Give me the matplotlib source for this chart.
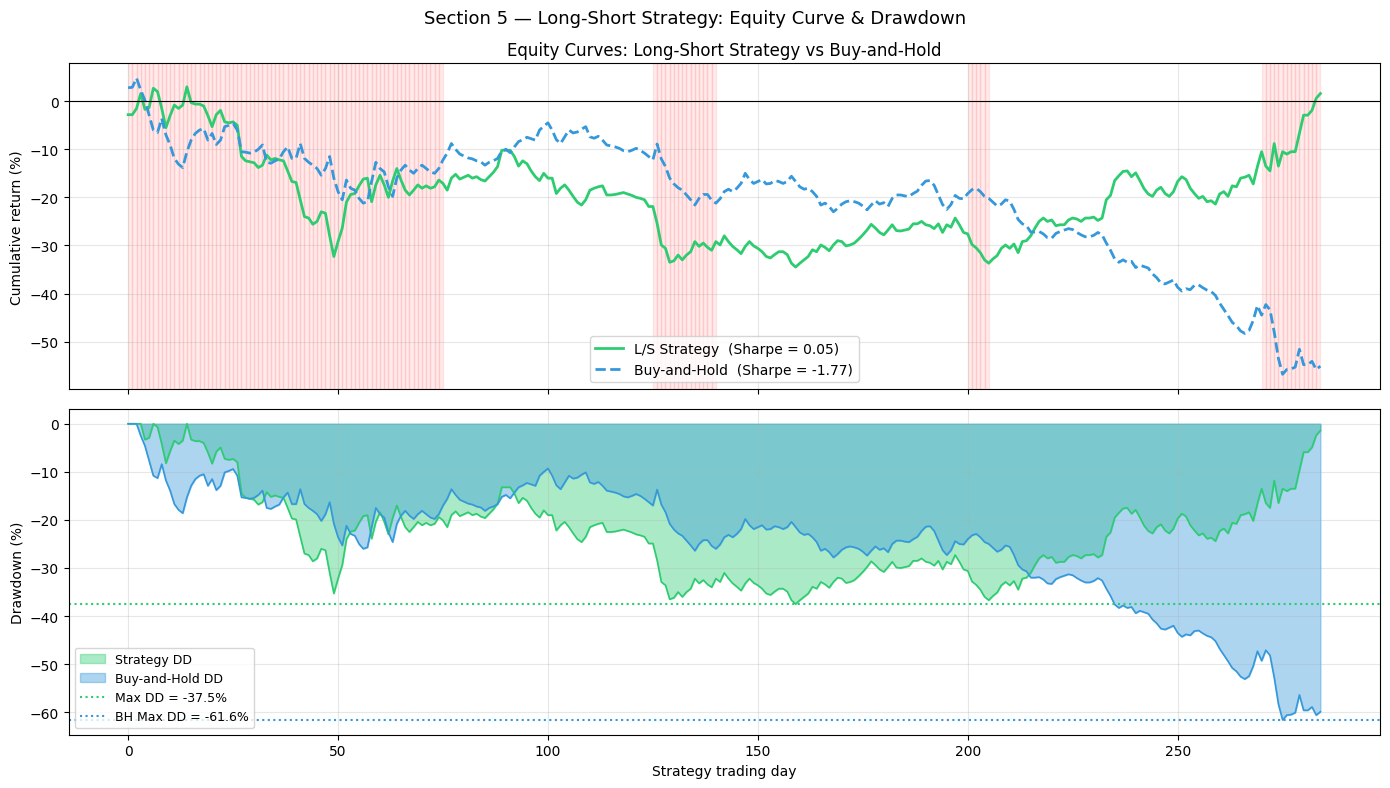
import numpy as np
import matplotlib
matplotlib.use("Agg")
import matplotlib.pyplot as plt

# cumulative returns (%), one value per trading day
strategy = [
    -2.8, -2.8, -1.5, 1.6, -1.7, -1.3, 2.7, 2.0, -1.5, -5.5,
    -3.0, -0.8, -1.5, -0.8, 3.0, -0.3, -0.6, -0.6, -1.0, -3.0,
    -5.3, -2.8, -1.9, -4.3, -4.5, -4.3, -5.0, -11.5, -12.4, -12.6,
    -12.8, -13.8, -13.3, -11.2, -12.2, -11.9, -12.2, -12.4, -14.5, -16.7,
    -16.9, -20.5, -24.0, -24.3, -25.6, -25.0, -23.0, -23.3, -28.0, -32.3,
    -29.2, -26.4, -21.0, -19.4, -19.2, -17.6, -16.2, -16.0, -20.9, -17.4,
    -15.4, -17.4, -20.0, -16.6, -14.0, -16.4, -18.5, -19.5, -18.5, -17.4,
    -18.1, -17.6, -18.1, -17.8, -16.4, -17.1, -18.5, -16.0, -15.2, -16.2,
    -15.8, -15.4, -16.0, -15.7, -16.3, -16.6, -15.7, -14.8, -13.6, -10.2,
    -10.2, -10.2, -11.5, -13.5, -12.4, -13.0, -14.5, -15.7, -16.5, -15.0,
    -16.0, -16.0, -19.2, -18.1, -17.4, -18.5, -19.8, -21.0, -21.6, -20.5,
    -18.5, -18.1, -17.8, -17.6, -19.5, -19.5, -19.4, -19.2, -19.0, -19.3,
    -19.6, -20.0, -20.2, -20.5, -21.9, -21.9, -25.4, -29.9, -30.6, -33.5,
    -33.2, -32.0, -33.0, -32.0, -31.3, -29.2, -30.2, -29.5, -30.4, -31.0,
    -29.2, -29.9, -28.0, -29.2, -30.2, -30.9, -31.7, -30.2, -29.2, -30.1,
    -30.6, -31.3, -32.3, -32.6, -31.9, -31.3, -31.3, -31.9, -33.7, -34.5,
    -33.7, -33.0, -32.3, -30.9, -31.3, -29.9, -30.4, -31.1, -29.9, -29.0,
    -29.2, -30.1, -29.9, -29.5, -28.7, -27.8, -26.8, -25.6, -26.4, -27.3,
    -27.8, -26.8, -25.7, -26.9, -27.0, -26.8, -26.6, -25.5, -25.5, -25.0,
    -25.7, -25.9, -26.5, -25.5, -27.3, -25.7, -26.2, -24.3, -25.7, -27.3,
    -27.6, -29.8, -30.5, -31.5, -33.0, -33.7, -32.8, -32.1, -30.6, -29.9,
    -30.6, -29.7, -31.5, -29.2, -29.0, -28.0, -26.4, -25.0, -24.3, -25.0,
    -24.7, -25.9, -25.7, -25.7, -24.7, -24.3, -24.5, -25.0, -24.3, -24.3,
    -24.1, -24.8, -24.3, -20.5, -19.6, -16.5, -15.5, -14.6, -14.5, -15.7,
    -14.9, -16.5, -18.2, -19.3, -19.8, -18.5, -17.9, -19.2, -19.8, -18.8,
    -16.7, -15.7, -16.3, -18.1, -19.2, -20.2, -19.8, -20.9, -20.7, -21.4,
    -19.3, -18.8, -19.8, -17.6, -17.8, -16.0, -15.8, -15.4, -17.2, -13.6,
    -10.5, -13.5, -14.5, -8.8, -13.5, -10.5, -11.0, -10.5, -10.5, -6.7,
    -2.9, -2.9, -1.9, 0.6, 1.6,
]

buyhold = [
    2.8, 2.9, 4.8, 2.3, 0.2, -2.9, -6.0, -6.5, -3.6, -7.0,
    -9.1, -11.9, -13.1, -13.8, -10.5, -8.1, -6.7, -6.0, -5.7, -8.1,
    -6.7, -9.0, -8.1, -5.3, -5.0, -4.6, -6.0, -10.5, -10.6, -10.8,
    -10.6, -10.0, -9.1, -12.7, -12.9, -12.4, -12.0, -10.5, -9.5, -11.9,
    -11.9, -8.8, -11.9, -12.7, -13.3, -14.0, -15.4, -14.0, -11.5, -16.0,
    -18.8, -20.5, -16.4, -18.1, -18.5, -20.2, -21.2, -20.9, -16.7, -12.7,
    -14.0, -14.7, -17.8, -19.8, -16.0, -14.3, -13.3, -14.3, -15.0, -14.0,
    -13.3, -14.0, -14.7, -15.0, -14.0, -12.2, -10.8, -8.8, -10.0, -11.0,
    -11.4, -11.8, -12.0, -12.4, -12.6, -13.3, -12.7, -12.4, -11.9, -10.4,
    -10.0, -10.7, -9.5, -8.4, -8.0, -7.5, -7.8, -8.1, -6.0, -5.2,
    -4.5, -6.0, -8.0, -8.8, -7.4, -6.0, -6.6, -6.4, -5.8, -5.3,
    -7.4, -7.7, -7.3, -8.1, -9.1, -9.3, -9.5, -9.8, -10.3, -10.5,
    -10.2, -9.8, -10.2, -10.8, -11.5, -12.2, -8.9, -12.0, -13.6, -16.0,
    -17.2, -18.0, -18.5, -19.5, -20.5, -21.6, -20.2, -19.4, -19.4, -20.6,
    -21.2, -20.3, -18.8, -18.3, -18.8, -18.1, -17.1, -15.0, -16.3, -17.1,
    -16.7, -16.3, -17.2, -17.1, -16.5, -16.7, -17.1, -16.7, -15.6, -16.7,
    -17.8, -18.3, -18.1, -18.8, -19.8, -21.6, -21.2, -21.9, -23.0, -22.3,
    -21.4, -20.9, -20.7, -20.9, -21.2, -21.8, -22.6, -21.6, -20.7, -21.4,
    -21.1, -21.9, -20.2, -19.5, -19.5, -19.7, -19.8, -19.2, -18.7, -17.5,
    -16.6, -16.5, -17.5, -19.5, -21.5, -22.5, -21.5, -19.6, -20.2, -20.3,
    -19.2, -18.4, -18.1, -18.8, -19.8, -20.2, -21.0, -21.8, -21.4, -20.5,
    -20.8, -22.5, -24.6, -25.5, -25.9, -27.2, -27.2, -27.1, -27.6, -28.4,
    -28.5, -27.5, -27.1, -26.8, -26.5, -26.7, -27.3, -27.8, -28.2, -28.2,
    -27.9, -27.3, -27.8, -29.5, -31.0, -32.8, -33.5, -33.0, -33.5, -33.3,
    -34.6, -34.1, -34.4, -34.7, -35.9, -36.7, -37.8, -38.0, -37.6, -37.2,
    -38.7, -39.5, -39.0, -39.2, -38.3, -38.2, -38.8, -39.3, -39.6, -40.4,
    -42.0, -43.3, -44.6, -46.0, -46.7, -47.8, -48.3, -47.7, -45.6, -42.5,
    -44.5, -42.3, -43.4, -48.0, -53.5, -56.8, -55.8, -55.7, -55.3, -51.6,
    -54.8, -54.8, -54.1, -55.8, -55.1,
]

# periods shaded red on the equity panel (start day, end day)
short_periods = [(0, 75), (125, 140), (200, 205), (270, 284)]

sharpe_strategy = 0.05
sharpe_bh = -1.77

strategy = np.array(strategy)
buyhold = np.array(buyhold)
days = np.arange(len(strategy))

# drawdown in percentage points from running peak
dd_strategy = strategy - np.maximum.accumulate(strategy)
dd_bh = buyhold - np.maximum.accumulate(buyhold)
max_dd = dd_strategy.min()
max_dd_bh = dd_bh.min()

green = '#2ecc71'
blue = '#3498db'

fig, (ax1, ax2) = plt.subplots(2, 1, figsize=(14, 8), sharex=True)

# --- equity curves
for start, end in short_periods:
    for d in range(start, end):
        ax1.axvspan(d, d + 1, color='red', alpha=0.08)
ax1.plot(days, strategy, color=green, lw=2,
         label=f'L/S Strategy  (Sharpe = {sharpe_strategy:.2f})')
ax1.plot(days, buyhold, color=blue, lw=2, ls='--',
         label=f'Buy-and-Hold  (Sharpe = {sharpe_bh:.2f})')
ax1.axhline(0, color='black', lw=0.8)
ax1.set_title('Equity Curves: Long-Short Strategy vs Buy-and-Hold')
ax1.set_ylabel('Cumulative return (%)')
ax1.legend(loc='lower center')
ax1.grid(alpha=0.3)

# --- drawdowns
ax2.fill_between(days, dd_strategy, 0, color=green, alpha=0.4, label='Strategy DD')
ax2.plot(days, dd_strategy, color=green, lw=1.2)
ax2.fill_between(days, dd_bh, 0, color=blue, alpha=0.4, label='Buy-and-Hold DD')
ax2.plot(days, dd_bh, color=blue, lw=1.2)
ax2.axhline(max_dd, color=green, ls=':', lw=1.5, label=f'Max DD = {max_dd:.1f}%')
ax2.axhline(max_dd_bh, color=blue, ls=':', lw=1.5, label=f'BH Max DD = {max_dd_bh:.1f}%')
ax2.set_ylabel('Drawdown (%)')
ax2.set_xlabel('Strategy trading day')
ax2.legend(loc='lower left', fontsize=9)
ax2.grid(alpha=0.3)

fig.suptitle('Section 5 — Long-Short Strategy: Equity Curve & Drawdown', fontsize=13)
plt.tight_layout()
plt.savefig('out.png', dpi=100, bbox_inches='tight')
